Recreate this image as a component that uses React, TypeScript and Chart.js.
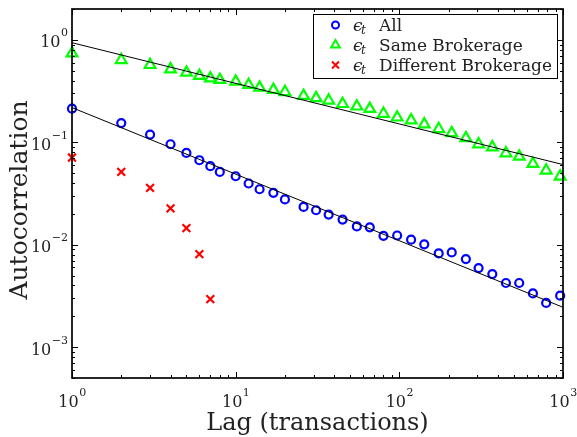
import React, { useEffect, useRef } from "react";
import { Chart, registerables } from "chart.js";

Chart.register(...registerables);

// ---- data ----
const lags = [1, 2, 3, 4, 5, 6, 7, 8, 10, 12, 14, 17, 20, 26, 31, 37, 45, 55, 66, 80, 97, 118, 142, 174, 209, 255, 305, 370, 448, 540, 655, 789, 961];
const allVals = [0.213, 0.154, 0.119, 0.0957, 0.0787, 0.0668, 0.0584, 0.0514, 0.0466, 0.0396, 0.0348, 0.0321, 0.0277, 0.0234, 0.0217, 0.0197, 0.0176, 0.0151, 0.0148, 0.0122, 0.0123, 0.0112, 0.0101, 0.00822, 0.00841, 0.00724, 0.00592, 0.00517, 0.00423, 0.00423, 0.00335, 0.0027, 0.00318];
const sameVals = [0.739, 0.636, 0.569, 0.516, 0.479, 0.445, 0.421, 0.407, 0.391, 0.363, 0.342, 0.325, 0.31, 0.284, 0.27, 0.256, 0.237, 0.224, 0.212, 0.19, 0.175, 0.164, 0.15, 0.135, 0.123, 0.11, 0.0958, 0.0895, 0.0782, 0.0726, 0.0617, 0.0531, 0.0464];
const diffLags = [1, 2, 3, 4, 5, 6, 7];
const diffVals = [0.071, 0.0514, 0.0359, 0.0226, 0.0145, 0.0081, 0.00294];
const fitLags = [1, 1000];
const fitAll = [0.218, 0.00245];
const fitSame = [0.937, 0.0606];
const xTickExps = [0, 1, 2, 3];
const yTickExps = [-3, -2, -1, 0];
const legendLabels = ["All", "Same Brokerage", "Different Brokerage"];
const seriesColors = ["#0000ff", "#00ff00", "#ff0000"];
const xTitle = "Lag (transactions)";
const yTitle = "Autocorrelation";

const FONT = '"DejaVu Serif", "Liberation Serif", serif';

function drawMarker(ctx: CanvasRenderingContext2D, kind: number, x: number, y: number) {
  ctx.save();
  ctx.lineWidth = 2;
  ctx.strokeStyle = seriesColors[kind];
  ctx.beginPath();
  if (kind === 0) {
    ctx.arc(x, y, 3.5, 0, Math.PI * 2);
  } else if (kind === 1) {
    const r = 5;
    ctx.moveTo(x, y - r);
    ctx.lineTo(x + r * Math.sin((2 * Math.PI) / 3), y - r * Math.cos((2 * Math.PI) / 3));
    ctx.lineTo(x + r * Math.sin((4 * Math.PI) / 3), y - r * Math.cos((4 * Math.PI) / 3));
    ctx.closePath();
  } else {
    const o = 3.5;
    ctx.moveTo(x - o, y - o);
    ctx.lineTo(x + o, y + o);
    ctx.moveTo(x + o, y - o);
    ctx.lineTo(x - o, y + o);
  }
  ctx.stroke();
  ctx.restore();
}

function powParts(e: number) {
  return { base: "10", exp: e < 0 ? "\u2212" + Math.abs(e) : String(e) };
}

const framePlugin = {
  id: "frame",
  afterDatasetsDraw(chart: any) {
    const ctx: CanvasRenderingContext2D = chart.ctx;
    const a = chart.chartArea;
    const xs = chart.scales.x;
    const ys = chart.scales.y;
    ctx.save();
    ctx.strokeStyle = "#000";
    ctx.lineWidth = 1;

    // x ticks (bottom & top, inward)
    for (let e = Math.floor(Math.log10(xs.min)); e <= Math.ceil(Math.log10(xs.max)); e++) {
      for (let d = 1; d <= 9; d++) {
        const v = d * Math.pow(10, e);
        if (v < xs.min * 0.999 || v > xs.max * 1.001) continue;
        const px = Math.round(xs.getPixelForValue(v)) + 0.5;
        const len = d === 1 ? 6 : 3;
        ctx.beginPath();
        ctx.moveTo(px, a.bottom);
        ctx.lineTo(px, a.bottom - len);
        ctx.moveTo(px, a.top);
        ctx.lineTo(px, a.top + len);
        ctx.stroke();
      }
    }
    // y ticks (left & right, inward)
    for (let e = Math.floor(Math.log10(ys.min)); e <= Math.ceil(Math.log10(ys.max)); e++) {
      for (let d = 1; d <= 9; d++) {
        const v = d * Math.pow(10, e);
        if (v < ys.min * 0.999 || v > ys.max * 1.001) continue;
        const py = Math.round(ys.getPixelForValue(v)) + 0.5;
        const len = d === 1 ? 6 : 3;
        ctx.beginPath();
        ctx.moveTo(a.left, py);
        ctx.lineTo(a.left + len, py);
        ctx.moveTo(a.right, py);
        ctx.lineTo(a.right - len, py);
        ctx.stroke();
      }
    }
    // frame
    ctx.lineWidth = 1.7;
    ctx.strokeRect(a.left, a.top, a.right - a.left, a.bottom - a.top);

    // tick labels
    ctx.fillStyle = "#222";
    ctx.textBaseline = "alphabetic";
    ctx.textAlign = "left";
    const baseFont = "16px " + FONT;
    const expFont = "11px " + FONT;
    for (const e of xTickExps) {
      const { base, exp } = powParts(e);
      ctx.font = baseFont;
      const wb = ctx.measureText(base).width;
      ctx.font = expFont;
      const we = ctx.measureText(exp).width;
      const px = xs.getPixelForValue(Math.pow(10, e));
      const x0 = px - (wb + we) / 2;
      const by = a.bottom + 29;
      ctx.font = baseFont;
      ctx.fillText(base, x0, by);
      ctx.font = expFont;
      ctx.fillText(exp, x0 + wb + 0.5, by - 11);
    }
    for (const e of yTickExps) {
      const { base, exp } = powParts(e);
      ctx.font = baseFont;
      const wb = ctx.measureText(base).width;
      ctx.font = expFont;
      const we = ctx.measureText(exp).width;
      const py = ys.getPixelForValue(Math.pow(10, e));
      const x0 = a.left - 4 - we - wb - 0.5;
      const by = py + 7.5;
      ctx.font = baseFont;
      ctx.fillText(base, x0, by);
      ctx.font = expFont;
      ctx.fillText(exp, x0 + wb + 0.5, by - 11);
    }

    // axis titles
    ctx.font = "24px " + FONT;
    ctx.textAlign = "center";
    ctx.fillText(xTitle, (a.left + a.right) / 2 + 0, a.bottom + 52);
    ctx.save();
    ctx.font = "25px " + FONT;
    ctx.translate(27, 200);
    ctx.rotate(-Math.PI / 2);
    ctx.fillText(yTitle, 0, 0);
    ctx.restore();

    // legend
    const bw = 244;
    const bh = 64;
    const bx = a.right - 6 - bw;
    const by = a.top + 5;
    ctx.fillStyle = "#fff";
    ctx.fillRect(bx, by, bw, bh);
    ctx.strokeStyle = "#000";
    ctx.lineWidth = 1;
    ctx.strokeRect(bx + 0.5, by + 0.5, bw, bh);
    ctx.textAlign = "left";
    for (let i = 0; i < legendLabels.length; i++) {
      const cy = by + 11 + i * 20;
      drawMarker(ctx, i, bx + 22.5, cy);
      ctx.fillStyle = "#222";
      ctx.font = "italic 17px " + FONT;
      ctx.fillText("\u03f5", bx + 40, cy + 6);
      ctx.font = "italic 12px " + FONT;
      ctx.fillText("t", bx + 48, cy + 9);
      ctx.font = "17px " + FONT;
      ctx.fillText(legendLabels[i], bx + 66, cy + 6);
    }
    ctx.restore();
  },
};

export default function App() {
  const ref = useRef<HTMLCanvasElement | null>(null);
  useEffect(() => {
    if (!ref.current) return;
    const pts = (xs: number[], ys: number[]) => xs.map((x, i) => ({ x, y: ys[i] }));
    const chart = new Chart(ref.current, {
      type: "scatter",
      data: {
        datasets: [
          {
            type: "line",
            data: pts(fitLags, fitAll),
            borderColor: "#000",
            borderWidth: 1,
            pointRadius: 0,
            showLine: true,
            fill: false,
          } as any,
          {
            type: "line",
            data: pts(fitLags, fitSame),
            borderColor: "#000",
            borderWidth: 1,
            pointRadius: 0,
            showLine: true,
            fill: false,
          } as any,
          {
            label: legendLabels[0],
            data: pts(lags, allVals),
            pointStyle: "circle",
            pointRadius: 4,
            borderWidth: 2.2,
            borderColor: seriesColors[0],
            backgroundColor: "rgba(0,0,0,0)",
            clip: false,
          } as any,
          {
            label: legendLabels[1],
            data: pts(lags, sameVals),
            pointStyle: "triangle",
            pointRadius: 6.2,
            borderWidth: 2.2,
            borderColor: seriesColors[1],
            backgroundColor: "rgba(0,0,0,0)",
            clip: false,
          } as any,
          {
            label: legendLabels[2],
            data: pts(diffLags, diffVals),
            pointStyle: "crossRot",
            pointRadius: 5.5,
            borderWidth: 2.2,
            borderColor: seriesColors[2],
            backgroundColor: "rgba(0,0,0,0)",
            clip: false,
          } as any,
        ],
      },
      options: {
        animation: false,
        responsive: false,
        events: [],
        layout: { padding: { top: 9, right: 14, left: 0, bottom: 0 } },
        plugins: { legend: { display: false }, tooltip: { enabled: false } },
        scales: {
          x: {
            type: "logarithmic",
            min: 1,
            max: 1000,
            ticks: { display: false },
            grid: { display: false },
            border: { display: false },
            afterFit: (s: any) => {
              s.height = 59;
            },
          },
          y: {
            type: "logarithmic",
            min: 5e-4,
            max: 2,
            ticks: { display: false },
            grid: { display: false },
            border: { display: false },
            afterFit: (s: any) => {
              s.width = 72;
            },
          },
        },
      } as any,
      plugins: [framePlugin],
    });
    return () => chart.destroy();
  }, []);
  return (
    <div style={{ position: "fixed", left: 0, top: 0, width: 577, height: 437, background: "#fff" }}>
      <canvas ref={ref} width={577} height={437} />
    </div>
  );
}
